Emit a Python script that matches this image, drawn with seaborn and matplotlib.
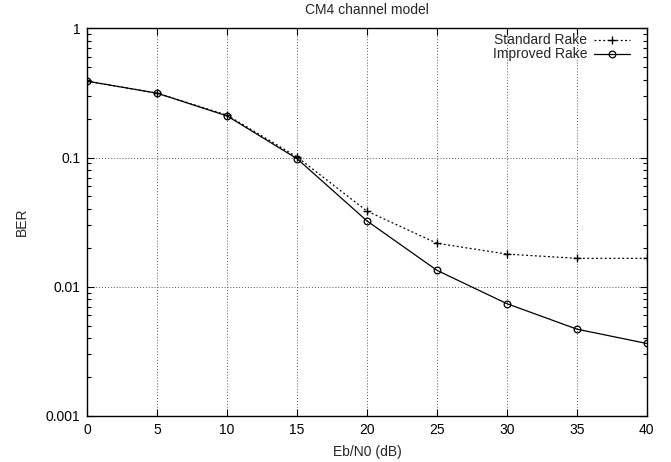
import numpy as np
import matplotlib
matplotlib.use("Agg")
import matplotlib.pyplot as plt
import seaborn as sns
from matplotlib.ticker import LogLocator, FixedLocator, NullFormatter

# data
ebn0 = [0, 5, 10, 15, 20, 25, 30, 35, 40]
ber_standard = [0.39, 0.315, 0.213, 0.101, 0.0385, 0.0217, 0.0179, 0.0166, 0.0166]
ber_improved = [0.39, 0.315, 0.210, 0.098, 0.0323, 0.0134, 0.0074, 0.0047, 0.00364]

sns.set_theme(style="ticks")
plt.rcParams["font.family"] = ["Liberation Sans", "DejaVu Sans"]
FS = 10

fig = plt.figure(figsize=(6.71, 4.62), dpi=100)
ax = fig.add_axes([0.130, 0.0996, 0.834, 0.839])

# standard rake: dotted line with plus markers
sns.lineplot(x=ebn0, y=ber_standard, color="black", linestyle=(0, (1.5, 2)),
             marker="+", markersize=5.5, markeredgecolor="black",
             markeredgewidth=1.0, linewidth=0.9,
             label="Standard Rake", ax=ax)
# improved rake: solid line with open circles
sns.lineplot(x=ebn0, y=ber_improved, color="black", linestyle="-",
             marker="o", markersize=4.8, markerfacecolor="none",
             markeredgecolor="black", markeredgewidth=0.9, linewidth=0.9,
             label="Improved Rake", ax=ax)

ax.set_yscale("log")
ax.set_xlim(0, 40)
ax.set_ylim(0.001, 1)
ax.xaxis.set_major_locator(FixedLocator(ebn0))
ax.set_yticks([0.001, 0.01, 0.1, 1])
ax.set_yticklabels(["0.001", "0.01", "0.1", "1"])
ax.yaxis.set_minor_locator(LogLocator(base=10, subs=np.arange(2, 10)))
ax.yaxis.set_minor_formatter(NullFormatter())

ax.grid(True, which="major", color="#555555", linestyle=(0, (1, 2)), linewidth=0.7)
ax.tick_params(which="both", direction="in", top=True, right=True,
               labelsize=FS, colors="black")
ax.tick_params(which="major", length=5, width=0.8, pad=5)
ax.tick_params(which="minor", length=3, width=0.8)
for s in ax.spines.values():
    s.set_color("black")
    s.set_linewidth(1.0)

ax.set_xlabel("Eb/N0 (dB)", fontsize=FS, labelpad=6)
ax.set_ylabel("BER", fontsize=FS, labelpad=12)
ax.set_title("CM4 channel model", fontsize=FS, pad=10)

leg = ax.legend(loc="upper right", frameon=False, fontsize=FS, markerfirst=False,
                handlelength=2.6, handletextpad=0.5, borderaxespad=1.0,
                labelspacing=0.0, borderpad=0.2, bbox_to_anchor=(1.0, 1.03))

fig.savefig("out.png", dpi=100)
